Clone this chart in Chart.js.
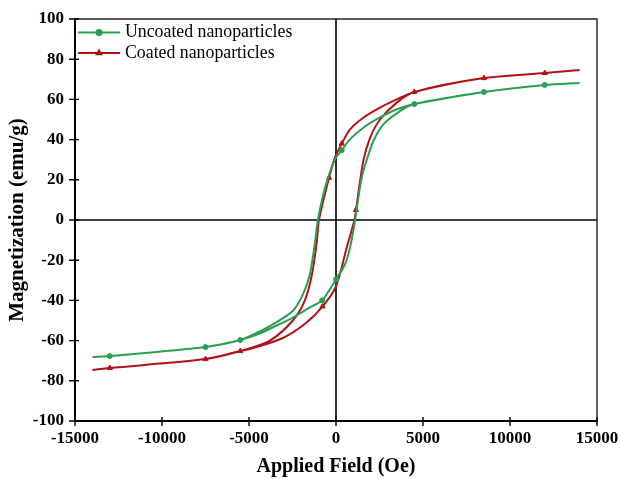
<!DOCTYPE html>
<html>
<head>
<meta charset="utf-8">
<script src="https://cdn.jsdelivr.net/npm/chart.js@4"></script>
<style>
  html, body { margin: 0; padding: 0; background: #fff; }
</style>
</head>
<body>
<canvas id="loopChart" width="621" height="479"></canvas>
<script>
// Uncoated nanoparticles: descending branch then ascending branch (Oe, emu/g)
const uncoatedField = [14000, 12000, 8500, 4500, 3500, 2500, 1570, 800, 330, -60, -630, -1040, -1200, -1500, -1900, -2460, -3410, -4400, -5500, -7500, -13000, -14000,
                       -13000, -7500, -5500, -4400, -3410, -2460, -1500, -800, 0, 520, 800, 1100, 1300, 1500, 1770, 2150, 2720, 3680, 4500, 8500, 12000, 14000];
const uncoatedMag = [68.2, 67.2, 63.7, 57.7, 55.1, 50.9, 45.9, 40.1, 34.7, 30.2, 16, 0, -10.5, -27, -37, -45, -50.8, -55.5, -59.7, -63.2, -67.7, -68.2,
                     -67.7, -63.2, -59.7, -56.5, -52.5, -48.4, -43.5, -40, -29.5, -22, -14, 0, 12, 22, 30, 39.3, 47.6, 54.2, 57.7, 63.7, 67.2, 68.2];
const uncoatedMarked = [0, 1, 1, 1, 0, 0, 0, 0, 1, 0, 0, 0, 0, 0, 0, 0, 0, 0, 0, 0, 0, 0,
                        1, 1, 1, 0, 0, 0, 0, 1, 1, 0, 0, 0, 0, 0, 0, 0, 0, 0, 0, 0, 0, 0];

// Coated nanoparticles
const coatedField = [14000, 12000, 8500, 4500, 3490, 2530, 1570, 810, 330, -60, -400, -980, -1100, -1380, -1790, -2480, -3800, -5500, -7500, -13000, -14000,
                     -13000, -7500, -5500, -4950, -3050, -1690, -770, 0, 615, 1060, 1150, 1570, 1960, 2530, 3490, 4500, 8500, 12000, 14000];
const coatedMag = [74.6, 73.1, 70.6, 63.7, 60, 55.9, 50.9, 45.1, 38, 31, 21, 0, -10.5, -27, -40, -50, -60, -65.2, -69.2, -73.6, -74.6,
                   -73.6, -69.2, -65.2, -64.2, -58.7, -51, -43, -33, -13.8, 0, 5, 29.4, 41, 50, 58.4, 63.7, 70.6, 73.1, 74.6];
const coatedMarked = [0, 1, 1, 1, 0, 0, 0, 0, 1, 0, 1, 0, 0, 0, 0, 0, 0, 0, 0, 0, 0,
                      1, 1, 1, 0, 0, 0, 1, 0, 0, 0, 1, 0, 0, 0, 0, 0, 0, 0, 0];

const seriesNames = ['Uncoated nanoparticles', 'Coated nanoparticles'];
const fieldTicks = [-15000, -10000, -5000, 0, 5000, 10000, 15000];
const magTicks = [-100, -80, -60, -40, -20, 0, 20, 40, 60, 80, 100];

const GREEN = '#2a9f52';
const RED = '#b01218';
const SERIF = "'Liberation Serif', 'Times New Roman', serif";

function toPoints(xs, ys) {
    return xs.map((x, i) => ({ x: x, y: ys[i] }));
}

// Zero lines, top/right frame, crossing tick marks and the legend box
const framePlugin = {
    id: 'frame',
    beforeDatasetsDraw(chart) {
        const { ctx, chartArea: a, scales } = chart;
        ctx.save();
        ctx.strokeStyle = '#000';
        ctx.lineWidth = 1.6;
        const x0 = Math.round(scales.x.getPixelForValue(0));
        const y0 = Math.round(scales.y.getPixelForValue(0));
        ctx.beginPath();
        ctx.moveTo(x0, a.top);
        ctx.lineTo(x0, a.bottom);
        ctx.moveTo(a.left, y0);
        ctx.lineTo(a.right, y0);
        ctx.stroke();
        ctx.restore();
    },
    afterDraw(chart) {
        const { ctx, chartArea: a, scales } = chart;
        ctx.save();
        // top and right border
        ctx.strokeStyle = '#222';
        ctx.lineWidth = 1.4;
        ctx.beginPath();
        ctx.moveTo(a.left, a.top);
        ctx.lineTo(a.right, a.top);
        ctx.lineTo(a.right, a.bottom);
        ctx.stroke();

        // tick marks crossing the axes
        ctx.strokeStyle = '#000';
        ctx.lineWidth = 1.4;
        ctx.beginPath();
        fieldTicks.forEach(v => {
            const px = scales.x.getPixelForValue(v);
            ctx.moveTo(px, a.bottom - 4);
            ctx.lineTo(px, a.bottom + 5);
        });
        magTicks.forEach(v => {
            const py = scales.y.getPixelForValue(v);
            ctx.moveTo(a.left - 6, py);
            ctx.lineTo(a.left + 4, py);
        });
        ctx.stroke();

        // legend
        const items = [
            { color: GREEN, style: 'circle', y: 32.5 },
            { color: RED, style: 'triangle', y: 53 }
        ];
        ctx.font = '17.8px ' + SERIF;
        ctx.textBaseline = 'middle';
        ctx.textAlign = 'left';
        items.forEach((it, i) => {
            ctx.strokeStyle = it.color;
            ctx.lineWidth = 2;
            ctx.beginPath();
            ctx.moveTo(78, it.y);
            ctx.lineTo(120, it.y);
            ctx.stroke();
            Chart.helpers.drawPoint(ctx, { pointStyle: it.style, radius: 2.5, borderWidth: 1 }, 99, it.y);
            ctx.fillStyle = it.color;
            ctx.fill();
            ctx.fillStyle = '#000';
            ctx.fillText(seriesNames[i], 125, it.y);
        });
        ctx.restore();
    }
};

const ctx = document.getElementById('loopChart').getContext('2d');
new Chart(ctx, {
    type: 'line',
    data: {
        datasets: [
            {
                label: seriesNames[0],
                data: toPoints(uncoatedField, uncoatedMag),
                borderColor: GREEN,
                backgroundColor: GREEN,
                borderWidth: 2,
                tension: 0.28,
                pointStyle: 'circle',
                pointRadius: uncoatedMarked.map(m => m ? 2.5 : 0),
                pointBorderWidth: 1,
                fill: false
            },
            {
                label: seriesNames[1],
                data: toPoints(coatedField, coatedMag),
                borderColor: RED,
                backgroundColor: RED,
                borderWidth: 2,
                tension: 0.28,
                pointStyle: 'triangle',
                pointRadius: coatedMarked.map(m => m ? 3 : 0),
                pointBorderWidth: 1,
                fill: false
            }
        ]
    },
    options: {
        responsive: false,
        animation: false,
        layout: { padding: { left: 0, top: 19, right: 24, bottom: 0 } },
        plugins: {
            legend: { display: false },
            tooltip: { enabled: false }
        },
        scales: {
            x: {
                type: 'linear',
                min: -15000,
                max: 15000,
                afterFit(scale) {
                    scale.height = 58;
                    scale.paddingLeft = 0;
                    scale.paddingRight = 0;
                },
                afterBuildTicks(scale) { scale.ticks = fieldTicks.map(v => ({ value: v })); },
                ticks: {
                    autoSkip: false,
                    maxRotation: 0,
                    padding: 7,
                    color: '#000',
                    callback: v => String(v),
                    font: { family: SERIF, size: 17, weight: 'bold' }
                },
                grid: { display: false, drawTicks: false },
                border: { display: true, color: '#000', width: 2 },
                title: {
                    display: true,
                    text: 'Applied Field (Oe)',
                    color: '#000',
                    padding: { top: 0, bottom: 0 },
                    font: { family: SERIF, size: 20, weight: 'bold' }
                }
            },
            y: {
                min: -100,
                max: 100,
                afterFit(scale) {
                    scale.width = 75;
                    scale.paddingTop = 0;
                    scale.paddingBottom = 0;
                },
                afterBuildTicks(scale) { scale.ticks = magTicks.map(v => ({ value: v })); },
                ticks: {
                    padding: 11,
                    color: '#000',
                    callback: v => String(v),
                    font: { family: SERIF, size: 17, weight: 'bold' }
                },
                grid: { display: false, drawTicks: false },
                border: { display: true, color: '#000', width: 2 },
                title: {
                    display: true,
                    text: 'Magnetization (emu/g)',
                    color: '#000',
                    padding: { top: 5, bottom: 0 },
                    font: { family: SERIF, size: 21, weight: 'bold' }
                }
            }
        }
    },
    plugins: [framePlugin]
});
</script>
</body>
</html>
